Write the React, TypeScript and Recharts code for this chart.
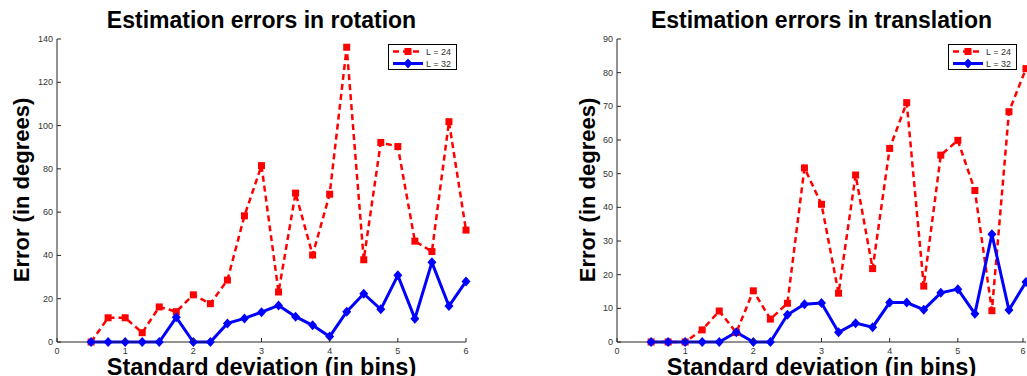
import React from "react";
import { LineChart, Line, XAxis, YAxis } from "recharts";

const sigma = [0.5, 0.75, 1, 1.25, 1.5, 1.75, 2, 2.25, 2.5, 2.75, 3, 3.25, 3.5, 3.75, 4, 4.25, 4.5, 4.75, 5, 5.25, 5.5, 5.75, 6];

const rotationL24 = [0, 11.2, 11.2, 4.3, 16.2, 14, 21.8, 17.7, 28.6, 58.3, 81.5, 23.1, 68.8, 40.2, 68.3, 136.2, 38, 92.2, 90.3, 46.6, 41.8, 101.8, 51.7];
const rotationL32 = [0, 0, 0, 0, 0, 11.4, 0, 0, 8.6, 10.9, 13.8, 16.9, 11.7, 7.7, 2.5, 14, 22.3, 15.1, 30.8, 10.8, 36.8, 16.6, 28];

const translationL24 = [0, 0, 0, 3.6, 9.2, 2.8, 15.2, 6.8, 11.5, 51.7, 40.9, 14.5, 49.6, 21.8, 57.5, 71.1, 16.6, 55.5, 59.9, 45, 9.3, 68.4, 81.2];
const translationL32 = [0, 0, 0, 0, 0, 2.9, 0, 0, 8.1, 11.2, 11.6, 2.9, 5.6, 4.4, 11.7, 11.7, 9.6, 14.6, 15.7, 8.4, 32, 9.5, 17.8];

const xTicks = [0, 1, 2, 3, 4, 5, 6];
const rotationTicks = [0, 20, 40, 60, 80, 100, 120, 140];
const translationTicks = [0, 10, 20, 30, 40, 50, 60, 70, 80, 90];

const FONT = '"Liberation Sans", Arial, Helvetica, sans-serif';
const RED = "#ff0000";
const BLUE = "#0000ff";
const AXIS = "#262626";

const SquareDot = (props: any) => {
  const { cx, cy, index } = props;
  if (cx == null || cy == null) return null;
  return <rect key={index} x={cx - 3.5} y={cy - 3.5} width={7} height={7} fill={RED} />;
};

const DiamondDot = (props: any) => {
  const { cx, cy, index } = props;
  if (cx == null || cy == null) return null;
  return (
    <polygon
      key={index}
      points={`${cx},${cy - 5} ${cx + 4.5},${cy} ${cx},${cy + 5} ${cx - 4.5},${cy}`}
      fill={BLUE}
    />
  );
};

const XTick = (props: any) => {
  const { x, y, payload } = props;
  return (
    <g>
      <line x1={x} x2={x} y1={y} y2={y - 4} stroke={AXIS} />
      <text x={x} y={y + 12} textAnchor="middle" fontSize={9} fontFamily={FONT} fill="#333">
        {payload.value}
      </text>
    </g>
  );
};

const YTick = (props: any) => {
  const { x, y, payload } = props;
  return (
    <g>
      <line x1={x} x2={x + 4} y1={y} y2={y} stroke={AXIS} />
      <text x={x - 4} y={y + 3} textAnchor="end" fontSize={9} fontFamily={FONT} fill="#333">
        {payload.value}
      </text>
    </g>
  );
};

interface PanelProps {
  title: string;
  l24: number[];
  l32: number[];
  yTicks: number[];
  left: number;
  width: number;
  plotLeft: number;
  marginRight: number;
  yLabelX: number;
}

function Panel({ title, l24, l32, yTicks, left, width, plotLeft, marginRight, yLabelX }: PanelProps) {
  const data = sigma.map((s, i) => ({ sigma: s, l24: l24[i], l32: l32[i] }));
  const plotRight = width - marginRight;
  const cx = (plotLeft + plotRight) / 2;
  const legendLeft = plotRight - 78;
  const yMax = yTicks[yTicks.length - 1];
  return (
    <div style={{ position: "absolute", left, top: 0, width, height: 376 }}>
      <LineChart width={width} height={376} data={data} margin={{ top: 39, right: marginRight, bottom: 0, left: 0 }}>
        <XAxis
          dataKey="sigma"
          type="number"
          domain={[0, 6]}
          ticks={xTicks}
          height={34}
          tickSize={0}
          tickMargin={0}
          tickLine={false}
          axisLine={{ stroke: AXIS }}
          tick={<XTick />}
        />
        <YAxis
          type="number"
          domain={[0, yMax]}
          ticks={yTicks}
          width={plotLeft}
          tickSize={0}
          tickMargin={0}
          tickLine={false}
          axisLine={{ stroke: AXIS }}
          tick={<YTick />}
        />
        <Line
          dataKey="l24"
          stroke={RED}
          strokeWidth={2.5}
          strokeDasharray="6 4"
          dot={SquareDot}
          activeDot={false}
          isAnimationActive={false}
        />
        <Line
          dataKey="l32"
          stroke={BLUE}
          strokeWidth={3}
          dot={DiamondDot}
          activeDot={false}
          isAnimationActive={false}
        />
      </LineChart>
      <svg width={width} height={376} style={{ position: "absolute", left: 0, top: 0, pointerEvents: "none" }}>
        <text x={cx} y={28} textAnchor="middle" fontSize={23} fontWeight="bold" fontFamily={FONT} fill="#000">
          {title}
        </text>
        <text x={cx} y={375} textAnchor="middle" fontSize={23.5} fontWeight="bold" fontFamily={FONT} fill="#000">
          Standard deviation (in bins)
        </text>
        <text
          transform={`translate(${yLabelX},190) rotate(-90)`}
          textAnchor="middle"
          fontSize={22}
          fontWeight="bold"
          fontFamily={FONT}
          fill="#000"
        >
          Error (in degrees)
        </text>
        <g transform={`translate(${legendLeft},44)`}>
          <rect x={0.5} y={0.5} width={68} height={25} fill="#fff" stroke="#000" />
          <line x1={5} x2={35} y1={7.5} y2={7.5} stroke={RED} strokeWidth={2.5} strokeDasharray="6 4" />
          <rect x={16.5} y={4} width={7} height={7} fill={RED} />
          <text x={38} y={11} fontSize={9} fontFamily={FONT} fill="#333">L = 24</text>
          <line x1={5} x2={35} y1={19.5} y2={19.5} stroke={BLUE} strokeWidth={3} />
          <polygon points="20,14.5 24.5,19.5 20,24.5 15.5,19.5" fill={BLUE} />
          <text x={38} y={23} fontSize={9} fontFamily={FONT} fill="#333">L = 32</text>
        </g>
      </svg>
    </div>
  );
}

export default function App() {
  return (
    <div style={{ position: "absolute", left: 0, top: 0, width: 1027, height: 376, overflow: "hidden", background: "#fff" }}>
      <Panel
        title="Estimation errors in rotation"
        l24={rotationL24}
        l32={rotationL32}
        yTicks={rotationTicks}
        left={0}
        width={507}
        plotLeft={57}
        marginRight={41}
        yLabelX={28.5}
      />
      <Panel
        title="Estimation errors in translation"
        l24={translationL24}
        l32={translationL32}
        yTicks={translationTicks}
        left={507}
        width={520}
        plotLeft={110}
        marginRight={1}
        yLabelX={87.7}
      />
    </div>
  );
}
